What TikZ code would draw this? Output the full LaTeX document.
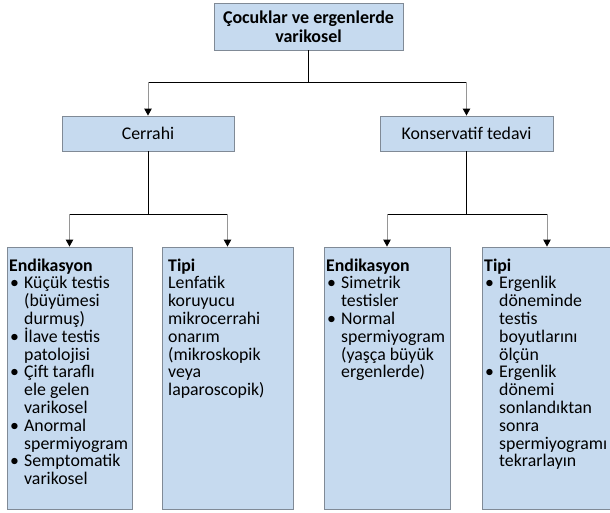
\documentclass[tikz,border=0pt]{standalone}
\usepackage{fontspec}
\setmainfont{Carlito}
\usetikzlibrary{arrows.meta}
\definecolor{boxfill}{RGB}{198,218,239}
\definecolor{boxline}{RGB}{128,138,150}
\definecolor{dropline}{RGB}{150,150,150}
\newcommand{\bul}{\makebox[15pt][l]{\hspace{1pt}•}}
\newcommand{\ind}{\hspace*{15pt}}
\begin{document}
\begin{tikzpicture}[x=1pt,y=-1pt,
  box/.style={draw=boxline, fill=boxfill, line width=0.9pt, inner sep=0pt},
  txt/.style={font=\fontsize{17.8}{17.8}\selectfont},
  listtext/.style={txt, anchor=north west, inner sep=0pt, align=left},
  conn/.style={draw=black, line width=0.9pt},
  drop/.style={draw=dropline, line width=0.9pt, -{Triangle[length=7pt,width=7.5pt,color=black]}}
]
\useasboundingbox (0,0) rectangle (610,512);
\node[box, minimum width=189pt, minimum height=47pt, align=center,
      font=\bfseries\fontsize{18}{18.5}\selectfont] (top) at (308.5,26.5)
      {Çocuklar ve ergenlerde\\varikosel};
\node[box, txt, minimum width=172pt, minimum height=35pt] (cer) at (148,133.5) {Cerrahi};
\node[box, txt, minimum width=173pt, minimum height=35pt] (kon) at (466.5,133.5) {Konservatif tedavi};
\node[box, minimum width=125pt, minimum height=262pt] (b1) at (69.5,378) {};
\node[box, minimum width=131pt, minimum height=262pt] (b2) at (227.5,378) {};
\node[box, minimum width=126pt, minimum height=262pt] (b3) at (387,378) {};
\node[box, minimum width=128pt, minimum height=262pt] (b4) at (546,378) {};
% junctions
\coordinate (j0) at (308.5,82);
\coordinate (j1) at (148,214);
\coordinate (j2) at (466.5,214);
\draw[conn] (top.south) -- (j0);
\draw[conn] (cer.north |- j0) -- (kon.north |- j0);
\draw[drop] (cer.north |- j0) -- (cer.north);
\draw[drop] (kon.north |- j0) -- (kon.north);
\draw[conn] (cer.south) -- (j1);
\draw[conn] (b1.north |- j1) -- (b2.north |- j1);
\draw[drop] (b1.north |- j1) -- (b1.north);
\draw[drop] (b2.north |- j1) -- (b2.north);
\draw[conn] (kon.south) -- (j2);
\coordinate (a4) at (547,214);
\draw[conn] (b3.north |- j2) -- (a4);
\draw[drop] (b3.north |- j2) -- (b3.north);
\draw[drop] (a4) -- (a4 |- b4.north);
% texts
\node[listtext] (t1) at (9,258.5) {\strut\textbf{Endikasyon}\\
\bul Küçük testis\\ \ind(büyümesi\\ \ind durmuş)\\
\bul İlave testis\\ \ind patolojisi\\
\bul Çift taraflı\\ \ind ele gelen\\ \ind varikosel\\
\bul Anormal\\ \ind spermiyogram\\
\bul Semptomatik\\ \ind varikosel};
\node[listtext] (t2) at (168,258.5) {\strut\textbf{Tipi}\\
Lenfatik\\ koruyucu\\ mikrocerrahi\\ onarım\\ (mikroskopik\\ veya\\ laparoscopik)};
\node[listtext] (t3) at (326,258.5) {\strut\textbf{Endikasyon}\\
\bul Simetrik\\ \ind testisler\\
\bul Normal\\ \ind spermiyogram\\ \ind(yaşça büyük\\ \ind ergenlerde)};
\node[listtext] (t4) at (484,258.5) {\strut\textbf{Tipi}\\
\bul Ergenlik\\ \ind döneminde\\ \ind testis\\ \ind boyutlarını\\ \ind ölçün\\
\bul Ergenlik\\ \ind dönemi\\ \ind sonlandıktan\\ \ind sonra\\ \ind spermiyogramı\\ \ind tekrarlayın};
\end{tikzpicture}
\end{document}
